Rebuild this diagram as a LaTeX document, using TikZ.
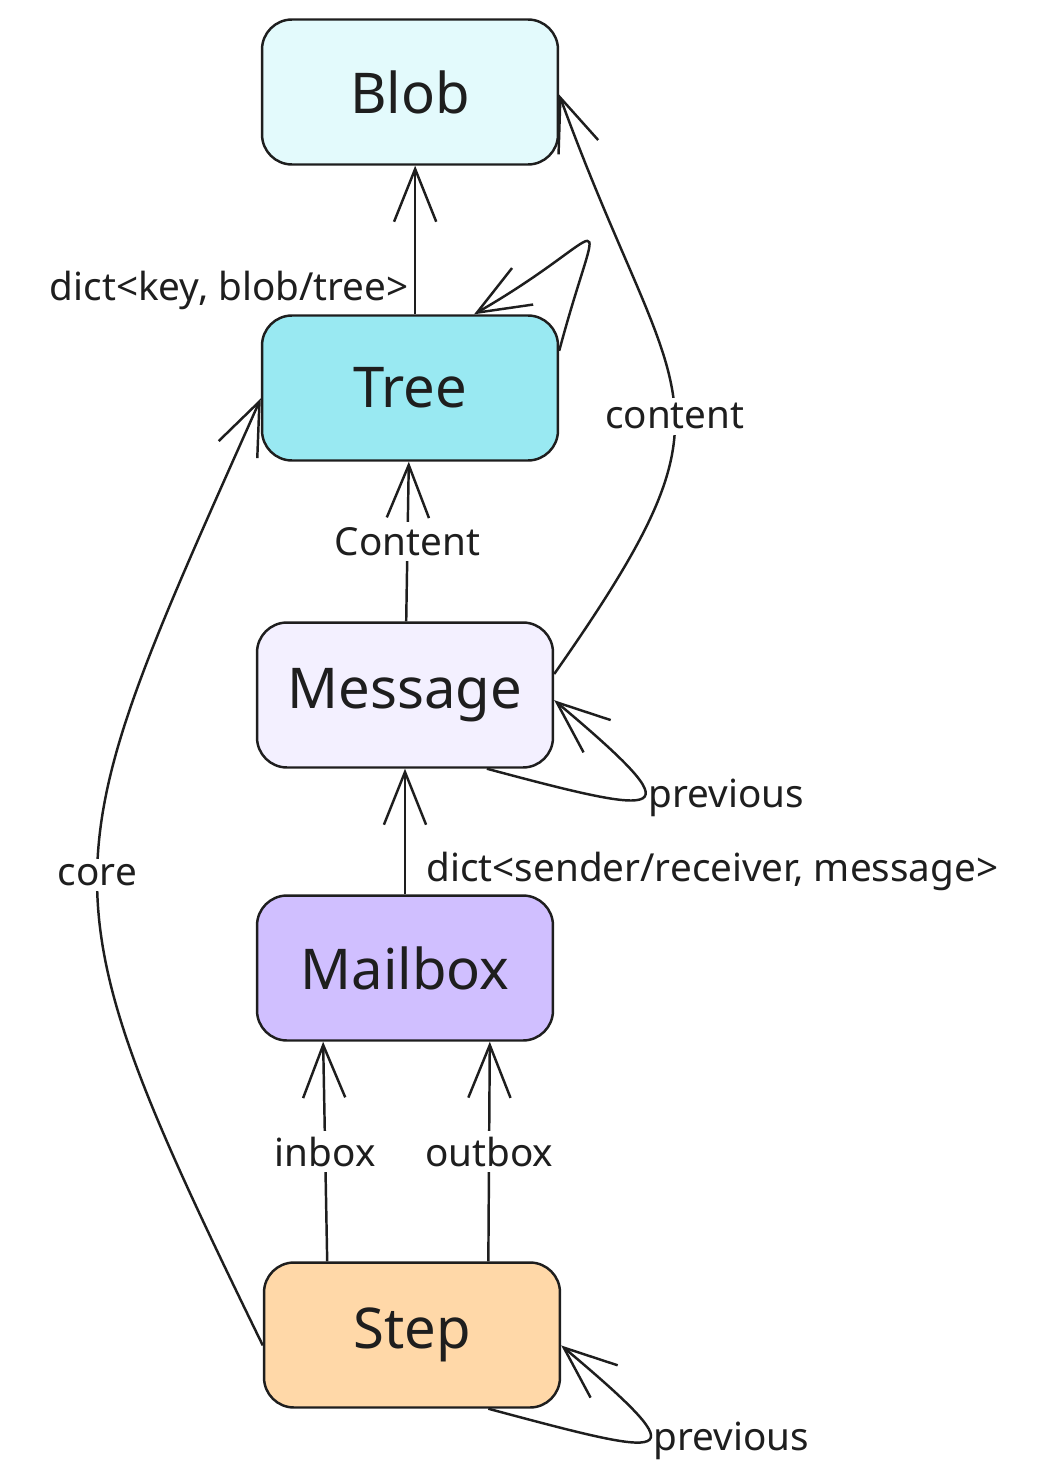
\documentclass[tikz,border=0pt]{standalone}
\usepackage{fontspec}
\setmainfont{Noto Sans}
\usepackage{tikz}
\usetikzlibrary{arrows.meta}

\definecolor{ink}{HTML}{1E1E1E}
\definecolor{blobfill}{HTML}{E3FAFC}
\definecolor{treefill}{HTML}{99E9F2}
\definecolor{msgfill}{HTML}{F3F0FF}
\definecolor{mailfill}{HTML}{D0BFFF}
\definecolor{stepfill}{HTML}{FFD8A8}

\begin{document}
\begin{tikzpicture}[->,>={Straight Barb[length=30pt,width=24pt]},x=0.02cm,y=-0.02cm,
                    line width=1.4pt,color=ink]
  \tikzstyle{box}=[draw=ink,rounded corners=0.6cm,minimum width=5.92cm,
                   minimum height=2.9cm,font=\fontsize{32}{38}\selectfont]
  \tikzstyle{lbl}=[fill=white,inner sep=3pt,font=\fontsize{22}{26}\selectfont]

  \useasboundingbox (0,0) rectangle (1047,1480);

  \node[box, fill=blobfill] (Blob)    at (410,92)   {Blob};
  \node[box, fill=treefill] (Tree)    at (410,388)  {Tree};
  \node[box, fill=msgfill]  (Message) at (405,695)  {Message};
  \node[box, fill=mailfill] (Mailbox) at (405,968)  {Mailbox};
  \node[box, fill=stepfill] (Step)    at (412,1335) {Step};

  \path (Tree.86)     edge node [lbl, left, fill=none, pos=0.16] {dict<key, blob/tree>} (Blob.-86)
        (Tree.14)     edge [out=75, in=30, looseness=4.6] (Tree.49)
        (Message)     edge node [lbl] {Content} (Tree)
        (Message.8)   edge [out=55, in=-70, looseness=1.5] node [lbl, pos=0.46] {content} (Blob.-1)
        (Message.-42) edge [out=-15, in=-40, looseness=5]
                           node [lbl, right, fill=none] {previous} (Message.-2)
        (Mailbox)     edge node [lbl, right, fill=none, pos=0.18, xshift=0.3cm] {dict<sender/receiver, message>} (Message)
        (Step.139)    edge node [lbl] {inbox} (Mailbox.222)
        (Step.44)     edge node [lbl] {outbox} (Mailbox.-41)
        (Step.184)    edge [out=116, in=-114, looseness=1.4] node [lbl] {core} (Tree.184)
        (Step.-44)    edge [out=-15, in=-40, looseness=5]
                           node [lbl, right, fill=none] {previous} (Step.-4);
\end{tikzpicture}
\end{document}
